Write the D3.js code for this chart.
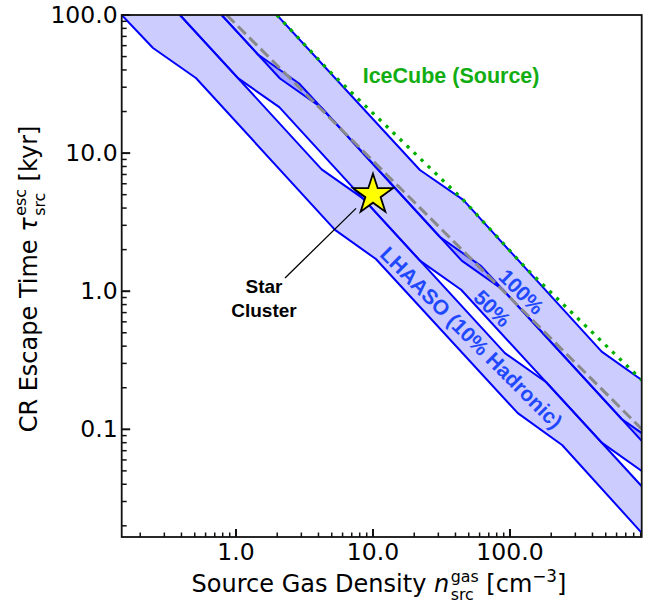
<!DOCTYPE html>
<html><head><meta charset="utf-8">
<script src="https://cdn.jsdelivr.net/npm/d3@7"></script>
<style>
body{margin:0;background:#fff}
text{white-space:pre}
</style></head><body>
<svg id="chart" width="667" height="605"></svg>
<script>
// ---------- axis limits & ticks ----------
const xDomain = [0.1465, 915];
const yDomain = [0.0166, 100];
const xMajorTicks = [1, 10, 100];
const xMajorLabels = ["1.0", "10.0", "100.0"];
const yMajorTicks = [0.1, 1, 10, 100];
const yMajorLabels = ["0.1", "1.0", "10.0", "100.0"];

// ---------- LHAASO 10% hadronic band ----------
const n10Low    = [0.1465, 0.248, 0.51, 5.28, 10.5, 114, 240, 915];
const tau10Low  = [100, 57.7, 35.0, 2.78, 1.71, 0.131, 0.077, 0.0178];
const n10High   = [0.39, 4.22, 8.44, 91.9, 184, 915];
const tau10High = [100, 7.63, 4.70, 0.356, 0.219, 0.0387];
// ---------- 50% band ----------
const n50Low    = [0.39, 1.034, 2.07, 22.0, 44.0, 467, 915];
const tau50Low  = [100, 34.9, 21.5, 1.665, 1.025, 0.080, 0.0499];
const n50High   = [0.786, 1.447, 2.89, 30.8, 61.6, 654, 915];
const tau50High = [100, 51.8, 31.9, 2.47, 1.52, 0.1187, 0.0939];
// ---------- 100% band ----------
const n100Low    = [0.786, 2.095, 4.19, 44.4, 88.8, 915];
const tau100Low  = [100, 34.7, 21.4, 1.665, 1.025, 0.0825];
const n100High   = [1.99, 22.0, 45.6, 467, 915];
const tau100High = [100, 7.55, 4.58, 0.365, 0.2275];
// ---------- IceCube (Source) ----------
const nIce   = [1.99, 4.86, 45.6, 133, 915];
const tauIce = [100, 38.7, 4.58, 1.44, 0.2275];
// ---------- grey dashed reference ----------
const nDash   = [0.855, 915];
const tauDash = [100, 0.1005];
// ---------- star cluster ----------
const starN = [10];
const starTau = [5];

// ---------- setup ----------
const plot = {left:121.7, right:641.7, top:15, bottom:537};
const svg = d3.select("#chart");
const x = d3.scaleLog().domain(xDomain).range([plot.left, plot.right]);
const y = d3.scaleLog().domain(yDomain).range([plot.bottom, plot.top]);
const zip = (a,b) => a.map((v,i)=>[v,b[i]]);
const line = d3.line().x(d=>x(d[0])).y(d=>y(d[1]));

svg.append("defs").append("clipPath").attr("id","clip")
  .append("rect").attr("x",plot.left).attr("y",plot.top)
  .attr("width",plot.right-plot.left).attr("height",plot.bottom-plot.top);
const g = svg.append("g").attr("clip-path","url(#clip)");

const bands = [
  {lo: zip(n10Low,tau10Low),   hi: zip(n10High,tau10High)},
  {lo: zip(n50Low,tau50Low),   hi: zip(n50High,tau50High)},
  {lo: zip(n100Low,tau100Low), hi: zip(n100High,tau100High)}
];
bands.forEach(b=>{
  g.append("path").attr("d", line(b.lo.concat(b.hi.slice().reverse()))+"Z")
    .attr("fill","#0000ff").attr("fill-opacity",0.2).attr("stroke","none");
});
bands.forEach(b=>{
  [b.lo,b.hi].forEach(pts=>{
    g.append("path").attr("d",line(pts)).attr("fill","none")
      .attr("stroke","#0000ff").attr("stroke-width",2).attr("stroke-linejoin","round");
  });
});
g.append("path").attr("d",line(zip(nDash,tauDash))).attr("fill","none")
  .attr("stroke","#8a8a8a").attr("stroke-width",3).attr("stroke-dasharray","11,5");
g.append("path").attr("d",line(zip(nIce,tauIce))).attr("fill","none")
  .attr("stroke","#00b000").attr("stroke-width",3.3).attr("stroke-dasharray","3.3,6.4");

// ---------- annotation ----------
const ann = {from:[2.28,1.246], to:[7.52,3.98]};
svg.append("line").attr("x1",x(ann.from[0])).attr("y1",y(ann.from[1]))
  .attr("x2",x(ann.to[0])).attr("y2",y(ann.to[1]))
  .attr("stroke","#000").attr("stroke-width",1.3);

// star marker
zip(starN,starTau).forEach(d=>{
  const R=21, r=R*0.382, pts=[];
  for(let i=0;i<10;i++){
    const a = -Math.PI/2 + i*Math.PI/5, rr = i%2?r:R;
    pts.push([x(d[0])+rr*Math.cos(a), y(d[1])+rr*Math.sin(a)]);
  }
  svg.append("path").attr("d","M"+pts.map(p=>p.join(",")).join("L")+"Z")
    .attr("fill","#ffff00").attr("stroke","#000").attr("stroke-width",1.8)
    .attr("stroke-linejoin","miter");
});

// ---------- spines & ticks ----------
const tickCol="#111";
const xMinor = x.ticks().filter(t=>!xMajorTicks.some(m=>Math.abs(m-t)<1e-9));
const yMinor = y.ticks().filter(t=>!yMajorTicks.some(m=>Math.abs(m-t)<1e-9));
const ax = svg.append("g");
xMinor.forEach(t=>ax.append("line").attr("x1",x(t)).attr("x2",x(t)).attr("y1",plot.bottom).attr("y2",plot.bottom-4.5).attr("stroke",tickCol).attr("stroke-width",1.5));
xMajorTicks.forEach(t=>ax.append("line").attr("x1",x(t)).attr("x2",x(t)).attr("y1",plot.bottom).attr("y2",plot.bottom-8).attr("stroke",tickCol).attr("stroke-width",2));
yMinor.forEach(t=>ax.append("line").attr("y1",y(t)).attr("y2",y(t)).attr("x1",plot.left).attr("x2",plot.left+5).attr("stroke",tickCol).attr("stroke-width",1.5));
yMajorTicks.forEach(t=>ax.append("line").attr("y1",y(t)).attr("y2",y(t)).attr("x1",plot.left).attr("x2",plot.left+8.5).attr("stroke",tickCol).attr("stroke-width",2));
svg.append("rect").attr("x",plot.left).attr("y",plot.top)
  .attr("width",plot.right-plot.left).attr("height",plot.bottom-plot.top)
  .attr("fill","none").attr("stroke","#111").attr("stroke-width",1.8);

const tickFont = "'DejaVu Sans', sans-serif";
xMajorTicks.forEach((t,i)=>svg.append("text").attr("x",x(t)).attr("y",plot.bottom+23)
  .attr("text-anchor","middle").style("font-family",tickFont).style("font-size","23.5px").text(xMajorLabels[i]));
yMajorTicks.forEach((t,i)=>svg.append("text").attr("x",plot.left-4).attr("y",y(t)+8)
  .attr("text-anchor","end").style("font-family",tickFont).style("font-size","23.5px").text(yMajorLabels[i]));

// ---------- rich axis labels (single text element, tspans) ----------
function rich(parent, parts, base){
  const t = parent.append("text").style("font-family",tickFont).style("font-size",base+"px");
  let cx = 0;
  parts.forEach(p=>{
    if(p.stack){
      const fs = base*0.66;
      const a = t.append("tspan").attr("x",cx).attr("y",-base*0.43).style("font-size",fs+"px").text(p.stack[0]);
      const b = t.append("tspan").attr("x",cx).attr("y",base*0.35).style("font-size",fs+"px").text(p.stack[1]);
      cx += Math.max(a.node().getComputedTextLength(), b.node().getComputedTextLength());
    } else {
      const fs = base*(p.scale||1);
      const s = t.append("tspan").attr("x",cx).attr("y",p.dy||0).style("font-size",fs+"px")
        .style("font-style",p.italic?"italic":"normal").text(p.t);
      cx += s.node().getComputedTextLength() + (p.after||0);
    }
  });
  t.selectAll("tspan").attr("x",function(){return +this.getAttribute("x") - cx/2;});
  return t;
}
const xl = rich(svg, [
  {t:"Source Gas Density "}, {t:"n", italic:true, after:1.5}, {stack:["gas","src"]},
  {t:" [cm"}, {t:"\u22123", scale:0.7, dy:-10}, {t:"]"}
], 24);
xl.attr("transform",`translate(379,592)`);
const yl = rich(svg, [
  {t:"CR Escape Time "}, {t:"\u03c4", italic:true, after:1.5}, {stack:["esc","src"]},
  {t:" [kyr]"}
], 24);
yl.attr("transform",`translate(36.5,279) rotate(-90)`);

// ---------- annotations ----------
const annFont = "'Liberation Sans', Arial, sans-serif";
svg.append("text").attr("x",x(8.41)).attr("y",y(32.0))
  .style("font-family",annFont).style("font-weight","bold").style("font-size","21.5px")
  .attr("fill","#12ad12").text("IceCube (Source)");
const sc = svg.append("text").style("font-family",annFont).style("font-weight","bold")
  .style("font-size","19px").attr("text-anchor","middle").attr("fill","#000");
sc.append("tspan").attr("x",x(1.6)).attr("y",y(0.975)).text("Star");
sc.append("tspan").attr("x",x(1.6)).attr("y",y(0.975)+24).text("Cluster");

const rotLabels = [
  {t:"100%", n:121.7, tau:0.992},
  {t:"50%", n:74.5, tau:0.752},
  {t:"LHAASO (10% Hadronic)", n:52.5, tau:0.462}
];
rotLabels.forEach(l=>{
  svg.append("text").attr("transform",`translate(${x(l.n)},${y(l.tau)}) rotate(45)`)
    .attr("text-anchor","middle").attr("dy","0.36em")
    .style("font-family",annFont).style("font-weight","bold").style("font-size","21px")
    .attr("fill","#1f48ff").text(l.t);
});
</script></body></html>
